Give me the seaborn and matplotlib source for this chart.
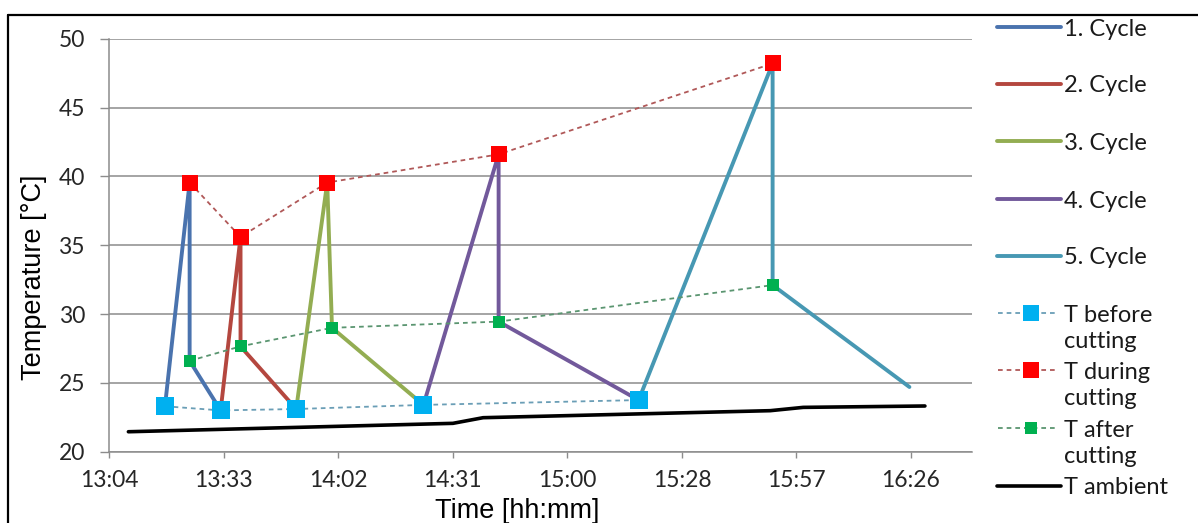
import numpy as np
import pandas as pd
import matplotlib
matplotlib.use("Agg")
import matplotlib.pyplot as plt
import seaborn as sns
from matplotlib.lines import Line2D
from matplotlib.ticker import FixedLocator, FixedFormatter

sns.set_theme(style="white")
plt.rcParams['font.family'] = ['Lato', 'DejaVu Sans']

# ---------------- data ----------------
before_times = ["13:18:48", "13:32:48", "13:51:48", "14:23:48", "15:17:54"]
before_temp = [23.3, 23.0, 23.1, 23.4, 23.75]
during_times = ["13:25:00", "13:37:48", "13:59:36", "14:42:42", "15:51:36"]
during_temp = [39.55, 35.6, 39.55, 41.6, 48.2]
after_times = ["13:25:00", "13:37:48", "14:00:48", "14:42:42", "15:51:36"]
after_temp = [26.6, 27.65, 29.0, 29.45, 32.1]
cycle5_end_time = "16:26:00"
cycle5_end_temp = 24.7
ambient_times = ["13:09:36", "14:31:12", "14:38:48", "15:51:00", "15:59:18", "16:29:54"]
ambient_temp = [21.45, 22.06, 22.47, 22.98, 23.22, 23.32]

cycle_labels = ["1. Cycle", "2. Cycle", "3. Cycle", "4. Cycle", "5. Cycle"]
series_labels = ["T before\ncutting", "T during\ncutting", "T after\ncutting", "T ambient"]
x_tick_labels = ["13:04", "13:33", "14:02", "14:31", "15:00", "15:28", "15:57", "16:26"]
y_ticks = [20, 25, 30, 35, 40, 45, 50]

# Excel time axis (fraction of day)
x_min, x_major, x_max = 0.545, 0.02, 0.6956

cycle_colors = ["#4A73AE", "#B4473F", "#93AD52", "#72599B", "#4798B3"]
before_color, during_color, after_color = "#00B0F0", "#FF0000", "#00B050"
before_dash, during_dash, after_dash = "#6A9EB6", "#B05858", "#5A9570"


def day_frac(s):
    h, m, sec = (int(v) for v in s.split(":"))
    return h / 24 + m / 1440 + sec / 86400


tb = [day_frac(t) for t in before_times]
td = [day_frac(t) for t in during_times]
ta = [day_frac(t) for t in after_times]

cycles = []
for i in range(5):
    if i < 4:
        end_t, end_T = tb[i + 1], before_temp[i + 1]
    else:
        end_t, end_T = day_frac(cycle5_end_time), cycle5_end_temp
    cycles.append(pd.DataFrame({
        "t": [tb[i], td[i], ta[i], end_t],
        "T": [before_temp[i], during_temp[i], after_temp[i], end_T],
    }))

W, H = 1198, 523
fig = plt.figure(figsize=(W / 100, H / 100), dpi=100)
fig.patch.set_facecolor("white")
ax = fig.add_axes([109.3 / W, 1 - 451.7 / H, (971.7 - 109.3) / W, (451.7 - 38.7) / H])
ax.set_facecolor("white")

# cycles
for df, c in zip(cycles, cycle_colors):
    sns.lineplot(data=df, x="t", y="T", sort=False, estimator=None, color=c,
                 lw=2.8, ax=ax, legend=False, zorder=3)

# ambient
amb = pd.DataFrame({"t": [day_frac(t) for t in ambient_times], "T": ambient_temp})
sns.lineplot(data=amb, x="t", y="T", sort=False, estimator=None, color="black",
             lw=2.6, ax=ax, legend=False, zorder=3)

# measurement series
dash = (0, (2.6, 2.2))
for tt, TT, mc, lc, ms in [(tb, before_temp, before_color, before_dash, 13.5),
                           (td, during_temp, during_color, during_dash, 11.5),
                           (ta, after_temp, after_color, after_dash, 9.0)]:
    d = pd.DataFrame({"t": tt, "T": TT})
    sns.lineplot(data=d, x="t", y="T", sort=False, estimator=None, color=lc,
                 lw=1.3, linestyle=dash, ax=ax, legend=False, zorder=4)
    sns.lineplot(data=d, x="t", y="T", sort=False, estimator=None, color=mc,
                 lw=0, marker="s", markersize=ms, markerfacecolor=mc,
                 markeredgecolor=mc, markeredgewidth=0, ax=ax, legend=False, zorder=5)

# axes styling
ax.set_xlim(x_min, x_max)
ax.set_ylim(20, 50)
xt = [x_min + x_major * k for k in range(len(x_tick_labels))]
ax.xaxis.set_major_locator(FixedLocator(xt))
ax.xaxis.set_major_formatter(FixedFormatter(x_tick_labels))
ax.yaxis.set_major_locator(FixedLocator(y_ticks))
ax.set_yticklabels([str(v) for v in y_ticks])

grid_c = "#8C8C8C"
ax.yaxis.grid(True, color=grid_c, lw=1.1, zorder=0)
ax.xaxis.grid(False)
for s in ["top", "right"]:
    ax.spines[s].set_visible(False)
for s in ["left", "bottom"]:
    ax.spines[s].set_color(grid_c)
    ax.spines[s].set_linewidth(1.1)
ax.tick_params(axis="y", direction="out", length=6.5, width=1.0, color=grid_c,
               pad=11, labelsize=16.5, labelcolor="#262626", left=True)
ax.tick_params(axis="x", direction="out", length=4.5, width=1.0, color=grid_c,
               pad=9, labelsize=16.5, labelcolor="#262626", bottom=True)
ax.set_axisbelow(True)

ax.set_xlabel("Time [hh:mm]", fontsize=19.5, family=["Liberation Sans", "DejaVu Sans"],
              color="black")
ax.set_ylabel("Temperature [°C]", fontsize=19.5, family=["Liberation Sans", "DejaVu Sans"],
              color="black")
ax.xaxis.set_label_coords((517.5 - 109.3) / 862.4, (451.7 - 518) / 413)
ax.xaxis.label.set_va("baseline")
ax.yaxis.set_label_coords((34.5 - 109.3) / 862.4, (451.7 - 277) / 413)
ax.yaxis.label.set_va("center")

# chart border (top and left edges of the Excel chart frame)
fig.add_artist(Line2D([8 / W, 1.0], [1 - 15 / H, 1 - 15 / H], transform=fig.transFigure,
                      color="black", lw=1.6))
fig.add_artist(Line2D([8 / W, 8 / W], [0, 1 - 15 / H], transform=fig.transFigure,
                      color="black", lw=1.6))

# legend (Excel style: handle aligned with first text line)
def fx(px):
    return px / W


def fy(py):
    return 1 - py / H


leg_font = 17
cyc_y = [27, 84, 141, 199, 256]
for lab, c, y in zip(cycle_labels, cycle_colors, cyc_y):
    fig.add_artist(Line2D([fx(997), fx(1061)], [fy(y), fy(y)], transform=fig.transFigure,
                          color=c, lw=2.8))
    fig.text(fx(1064), fy(y), lab, fontsize=leg_font, va="center_baseline", ha="left",
             color="#1a1a1a")

ser_y = [313, 370, 428]
for lab, mc, lc, ms, y in zip(series_labels[:3], [before_color, during_color, after_color],
                              [before_dash, during_dash, after_dash], [11, 11, 9], ser_y):
    fig.add_artist(Line2D([fx(998), fx(1058)], [fy(y), fy(y)], transform=fig.transFigure,
                          color=lc, lw=1.3, linestyle=dash))
    fig.add_artist(Line2D([fx(1031)], [fy(y)], transform=fig.transFigure, lw=0,
                          marker="s", markersize=ms, markerfacecolor=mc,
                          markeredgewidth=0))
    fig.text(fx(1064), fy(y + 11), lab, fontsize=leg_font, va="center_baseline", ha="left",
             color="#1a1a1a", linespacing=1.3)

fig.add_artist(Line2D([fx(997), fx(1061)], [fy(486), fy(486)], transform=fig.transFigure,
                      color="black", lw=2.6))
fig.text(fx(1064), fy(486), series_labels[3], fontsize=leg_font, va="center_baseline",
         ha="left", color="#1a1a1a")

fig.savefig("out.png", dpi=100, facecolor="white")
